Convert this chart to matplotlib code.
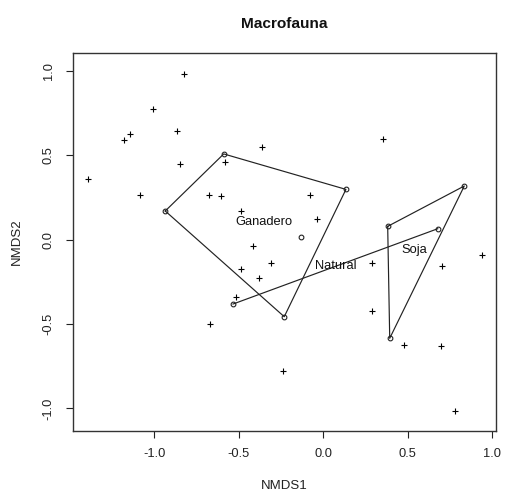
import numpy as np
import matplotlib
matplotlib.use("Agg")
import matplotlib.pyplot as plt

plt.rcParams['font.family'] = ['Liberation Sans', 'DejaVu Sans']

# Species scores (crosses)
species_x = [-0.824, -1.009, -0.864, -1.146, -1.178, -0.848, -1.391, -0.580, -0.361, -1.086,
             -0.676, -0.605, -0.489, -0.418, -0.309, -0.485, -0.380, -0.518, -0.670, -0.238,
             0.351, -0.079, -0.039, 0.290, 0.704, 0.937, 0.290, 0.479, 0.698, 0.778]
species_y = [0.979, 0.771, 0.643, 0.623, 0.591, 0.449, 0.360, 0.461, 0.546, 0.264,
             0.264, 0.258, 0.169, -0.039, -0.137, -0.173, -0.226, -0.341, -0.502, -0.777,
             0.597, 0.264, 0.121, -0.137, -0.155, -0.092, -0.425, -0.625, -0.633, -1.016]

# Site scores (circles) and their groups
site_x = [-0.589, 0.134, -0.231, -0.935, -0.130, -0.534, 0.677, 0.381, 0.834, 0.393]
site_y = [0.507, 0.297, -0.457, 0.169, 0.013, -0.382, 0.064, 0.078, 0.317, -0.585]
site_group = ['Ganadero'] * 5 + ['Natural'] * 2 + ['Soja'] * 3
groups = ['Ganadero', 'Natural', 'Soja']

ticks = [-1.0, -0.5, 0.0, 0.5, 1.0]
tick_labels = ['-1.0', '-0.5', '0.0', '0.5', '1.0']


def convex_hull(pts):
    pts = sorted(set(pts))
    if len(pts) <= 2:
        return pts
    def cross(o, a, b):
        return (a[0] - o[0]) * (b[1] - o[1]) - (a[1] - o[1]) * (b[0] - o[0])
    lower, upper = [], []
    for p in pts:
        while len(lower) >= 2 and cross(lower[-2], lower[-1], p) <= 0:
            lower.pop()
        lower.append(p)
    for p in reversed(pts):
        while len(upper) >= 2 and cross(upper[-2], upper[-1], p) <= 0:
            upper.pop()
        upper.append(p)
    return lower[:-1] + upper[:-1]


fig = plt.figure(figsize=(5.06, 4.96), dpi=100)
W, H = 506, 496
left, right, top, bottom = 73.3, 495.7, 53.3, 431.0
ax = fig.add_axes([left / W, 1 - bottom / H, (right - left) / W, (bottom - top) / H])

ax.plot(species_x, species_y, linestyle='none', marker='+', markersize=4.2,
        markeredgewidth=0.8, color='black', zorder=3)
ax.plot(site_x, site_y, linestyle='none', marker='o', markersize=3.4,
        markerfacecolor='none', markeredgewidth=0.8, color='#222222', zorder=3)

sx = np.array(site_x)
sy = np.array(site_y)
sg = np.array(site_group)
for g in groups:
    m = sg == g
    pts = list(zip(sx[m], sy[m]))
    hull = convex_hull(pts)
    hx = [p[0] for p in hull]
    hy = [p[1] for p in hull]
    if len(hull) > 2:
        hx.append(hull[0][0])
        hy.append(hull[0][1])
    ax.plot(hx, hy, color='#222222', linewidth=0.85, zorder=2)
    ax.text(sx[m].mean(), sy[m].mean(), g, ha='center', va='center',
            fontsize=9.3, color='#111111', zorder=4)

ax.set_xlim(-1.479, 1.020)
ax.set_ylim(-1.134, 1.103)
ax.set_xticks(ticks)
ax.set_xticklabels(tick_labels)
ax.set_yticks(ticks)
ax.set_yticklabels(tick_labels, rotation=90, va='center')
ax.tick_params(axis='both', direction='out', length=5, width=0.8,
               labelsize=9.3, colors='#222222')
ax.tick_params(axis='x', pad=7)
ax.tick_params(axis='y', pad=8.5)
for s in ax.spines.values():
    s.set_linewidth(1.0)
    s.set_color('#333333')

ax.set_xlabel('NMDS1', fontsize=9.5, labelpad=15, color='#222222')
ax.set_ylabel('NMDS2', fontsize=9.5, labelpad=14, color='#222222')
ax.set_title('Macrofauna', fontsize=11.1, fontweight='bold', pad=18, color='#111111')

fig.savefig('out.png', dpi=100)
